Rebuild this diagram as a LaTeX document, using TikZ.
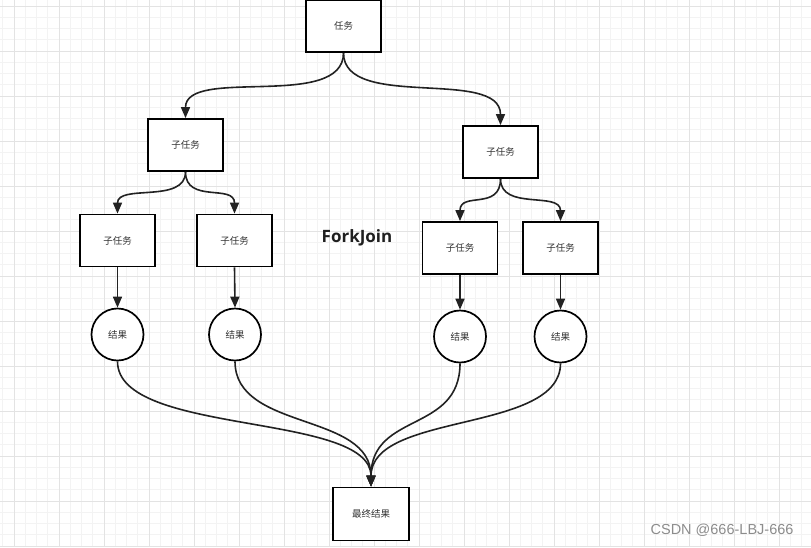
\documentclass[tikz,border=0pt]{standalone}
\usepackage{fontspec}
\newfontfamily\cjk{Noto Sans CJK SC}
\newfontfamily\fjfont{Open Sans}
\newfontfamily\wmfont{Liberation Sans}
\usetikzlibrary{arrows.meta}
\definecolor{gminor}{HTML}{F3F3F3}
\definecolor{gmajor}{HTML}{E3E3E3}
\definecolor{edgec}{HTML}{222222}
\begin{document}
\begin{tikzpicture}[x=1pt,y=-1pt,
  box/.style={draw=black, line width=1.8pt, fill=white, minimum width=75pt, minimum height=52pt, inner sep=0pt, font=\cjk\fontsize{9.5}{11}\selectfont, text=black!80},
  res/.style={draw=black, line width=1.7pt, fill=white, circle, minimum size=52pt, inner sep=0pt, font=\cjk\fontsize{9.5}{11}\selectfont, text=black!80},
  conn/.style={draw=edgec, line width=1.6pt, -{Triangle[length=11pt,width=9pt]}},
  gridminor/.style={draw=gminor, line width=0.6pt},
  gridmajor/.style={draw=gmajor, line width=0.8pt}]
\useasboundingbox (0,0) rectangle (811,547);
\fill[white] (0,0) rectangle (811,547);
% grid
\foreach \i in {0,...,72} \draw[gridminor] ({2.75+11.25*\i},0) -- ({2.75+11.25*\i},547);
\foreach \i in {0,...,48} \draw[gridminor] (0,{6+11.25*\i}) -- (811,{6+11.25*\i});
\foreach \i in {0,...,17} \draw[gridmajor] ({14+45*\i},0) -- ({14+45*\i},547);
\foreach \i in {0,...,12} \draw[gridmajor] (0,{6+45*\i}) -- (811,{6+45*\i});
% nodes
\node[box] (t) at (343.5,26) {任务};
\node[box] (sl) at (185.5,145) {子任务};
\node[box] (sr) at (500.5,152) {子任务};
\node[box] (sll) at (117.5,240.5) {子任务};
\node[box] (slr) at (234.5,240.5) {子任务};
\node[box] (srl) at (460,248) {子任务};
\node[box] (srr) at (560.5,248) {子任务};
\node[res] (rll) at (117.5,334.5) {结果};
\node[res] (rlr) at (235,334.5) {结果};
\node[res] (rrl) at (460,336.5) {结果};
\node[res] (rrr) at (560.5,336.5) {结果};
\node[box, minimum width=76pt, minimum height=53pt] (f) at (371,514) {最终结果};
\node[font=\fjfont\bfseries\fontsize{17}{20}\selectfont, text=black!88] (fj) at (357,238) {ForkJoin};
\node[font=\wmfont\fontsize{14.5}{16}\selectfont, text=black!45, anchor=east] (wm) at (797,530) {CSDN @666-LBJ-666};
% connectors
\draw[conn] (t.south) .. controls +(0,58) and +(0,-52) .. (sl.north);
\draw[conn] (t.south) .. controls +(0,58) and +(0,-58) .. (sr.north);
\draw[conn] (sl.south) .. controls +(0,32) and +(0,-30) .. (sll.north);
\draw[conn] (sl.south) .. controls +(0,32) and +(0,-30) .. (slr.north);
\draw[conn] (sr.south) .. controls +(0,32) and +(0,-30) .. (srl.north);
\draw[conn] (sr.south) .. controls +(0,32) and +(0,-30) .. (srr.north);
\draw[conn] (sll.south) -- (rll.north);
\draw[conn] (slr.south) -- (rlr.north);
\draw[conn] (srl.south) -- (rrl.north);
\draw[conn] (srr.south) -- (rrr.north);
\draw[conn] (rll.south) .. controls +(0,75) and +(0,-75) .. (f.north);
\draw[conn] (rlr.south) .. controls +(0,70) and +(0,-75) .. (f.north);
\draw[conn] (rrl.south) .. controls +(0,70) and +(0,-75) .. (f.north);
\draw[conn] (rrr.south) .. controls +(0,70) and +(0,-75) .. (f.north);
\end{tikzpicture}
\end{document}
